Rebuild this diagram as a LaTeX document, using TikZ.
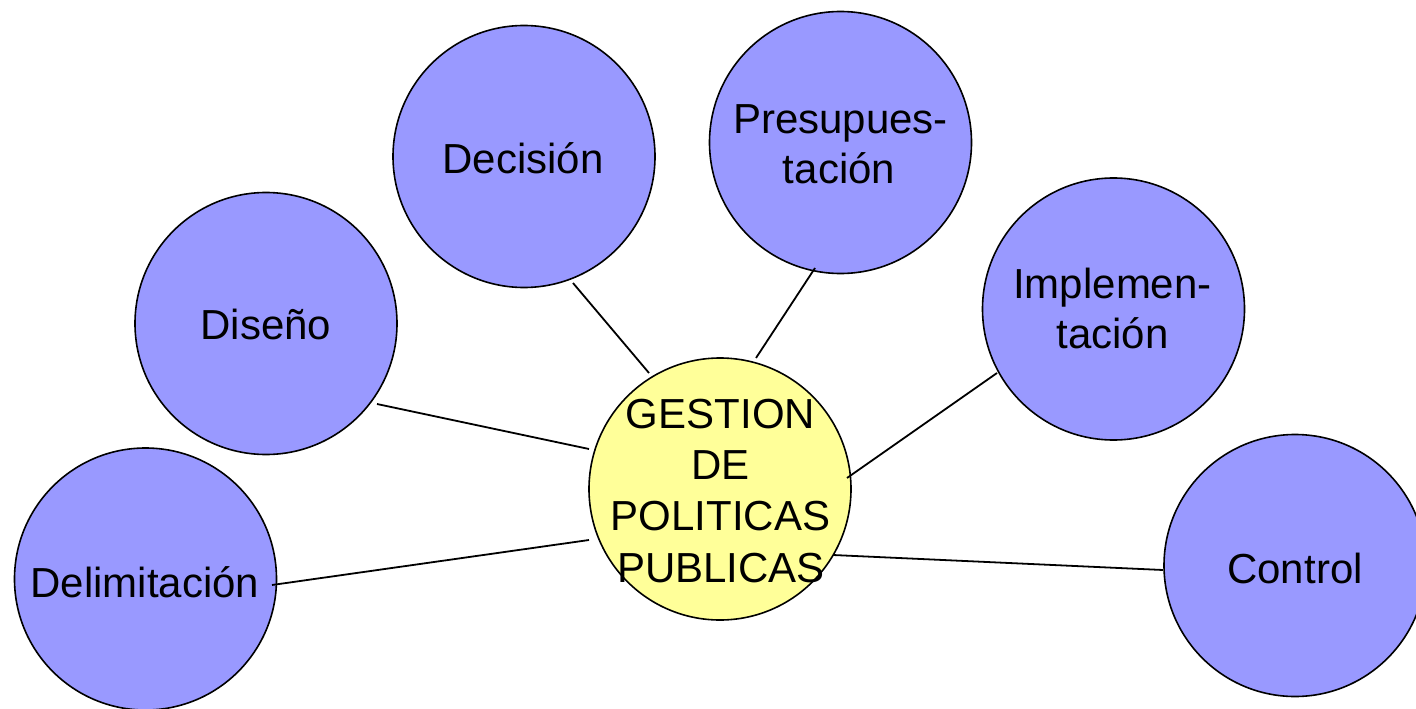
\documentclass[tikz,border=0pt]{standalone}
\usepackage{fontspec}
\setmainfont{Liberation Sans}
\definecolor{bubble}{HTML}{9999FF}
\definecolor{core}{HTML}{FFFF99}
\begin{document}
\begin{tikzpicture}[x=1pt,y=-1pt,
  bubblebox/.style={circle,draw=black,line width=1.6pt,fill=bubble,minimum size=262pt,inner sep=0pt,outer sep=0pt},
  corebox/.style={circle,draw=black,line width=1.6pt,fill=core,minimum size=262pt,inner sep=0pt,outer sep=0pt},
  word/.style={anchor=base,inner sep=0pt,font=\fontsize{42}{50}\selectfont},
  link/.style={draw=black,line width=1.8pt}]
\clip (0,0) rectangle (1416,709);
% circles
\node[bubblebox] (delim) at (145.5,579) {};
\node[bubblebox] (dis) at (266,323.5) {};
\node[bubblebox] (dec) at (524,156.5) {};
\node[bubblebox] (pre) at (840.5,142.5) {};
\node[bubblebox] (imp) at (1113.5,309) {};
\node[bubblebox] (con) at (1295,565.5) {};
\node[corebox] (gest) at (720,489) {};
% connector end points
\coordinate (delimA) at (272,585);   \coordinate (gestA) at (589,540);
\coordinate (disA) at (377,404);     \coordinate (gestB) at (589,449);
\coordinate (decA) at (573,283);     \coordinate (gestC) at (649,373);
\coordinate (preA) at (815,268);     \coordinate (gestD) at (756,358);
\coordinate (impA) at (997,373);     \coordinate (gestE) at (847,478);
\coordinate (conA) at (1163,570);    \coordinate (gestF) at (833,555);
\draw[link] (delimA) -- (gestA);
\draw[link] (disA) -- (gestB);
\draw[link] (decA) -- (gestC);
\draw[link] (preA) -- (gestD);
\draw[link] (impA) -- (gestE);
\draw[link] (conA) -- (gestF);
% texts
\node[word] (tdelim) at (145,597) {Delimitación};
\node[word] (tdis) at (266,339) {Diseño};
\node[word] (tdec) at (523,173) {Decisión};
\node[word] (tpre1) at (840.5,133) {Presupues-};
\node[word] (tpre2) at (839,183) {tación};
\node[word] (timp1) at (1112.5,298) {Implemen-};
\node[word] (timp2) at (1112.5,348) {tación};
\node[word] (tcon) at (1295,583) {Control};
\node[word] (tg1) at (720.5,428) {GESTION};
\node[word] (tg2) at (720.5,479) {DE};
\node[word] (tg3) at (720.5,530) {POLITICAS};
\node[word] (tg4) at (721,582) {PUBLICAS};
\end{tikzpicture}
\end{document}
